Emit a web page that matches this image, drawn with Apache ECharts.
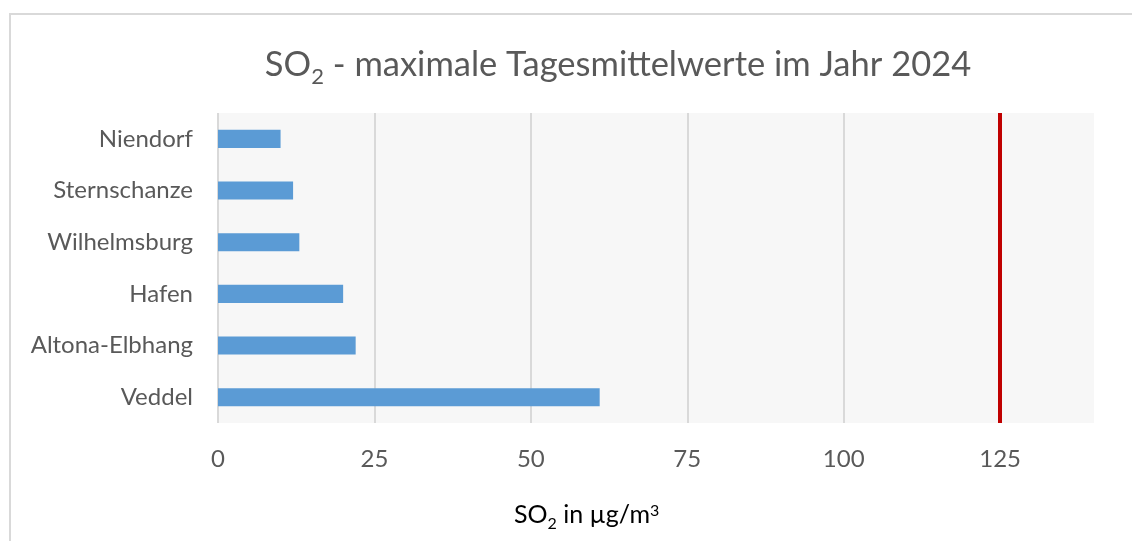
<!DOCTYPE html>
<html>
<head>
<meta charset="utf-8">
<script src="https://cdn.jsdelivr.net/npm/echarts@6/dist/echarts.min.js"></script>
<style>
  html, body { margin: 0; padding: 0; background: #fff; }
  #chart { width: 1132px; height: 541px; }
</style>
</head>
<body>
<div id="chart"></div>
<script>
// Messstationen (von unten nach oben wie im Diagramm)
const stations = ['Veddel', 'Altona-Elbhang', 'Hafen', 'Wilhelmsburg', 'Sternschanze', 'Niendorf']
// maximale Tagesmittelwerte SO2 in µg/m³
const maxDaily = [61, 22, 20, 13, 12, 10]
// Grenzwert Tagesmittel
const limitValue = 125
const xTicks = [0, 25, 50, 75, 100, 125]

const textColor = '#595959'
const font = 'Lato'

const chart = echarts.init(document.getElementById('chart'))
const option = {
  animation: false,
  backgroundColor: '#fff',
  title: {
    text: '{t|SO}{s|2}{t| - maximale Tagesmittelwerte im Jahr 2024}',
    left: 613,
    top: 42,
    textAlign: 'center',
    textStyle: {
      fontWeight: 'normal',
      rich: {
        t: { fontFamily: font, fontSize: 34.5, fontWeight: 'normal', color: textColor, lineHeight: 42, verticalAlign: 'top' },
        s: { fontFamily: font, fontSize: 22, fontWeight: 'normal', color: textColor, lineHeight: 22, verticalAlign: 'top', padding: [19, 0, 0, 0] }
      }
    }
  },
  graphic: [
    {
      type: 'rect',
      z: -10,
      shape: { x: 10, y: 14, width: 1200, height: 600 },
      style: { fill: 'none', stroke: '#d9d9d9', lineWidth: 2 }
    },
    {
      type: 'text',
      left: 514,
      top: 502,
      style: {
        text: '{t|SO}{s|2}{t| in µg/m}{p|3}',
        rich: {
          t: { fontFamily: font, fontSize: 25, color: textColor, lineHeight: 30, verticalAlign: 'top' },
          s: { fontFamily: font, fontSize: 16, color: textColor, lineHeight: 16, verticalAlign: 'top', padding: [14, 0, 0, 0] },
          p: { fontFamily: font, fontSize: 16, color: textColor, lineHeight: 16, verticalAlign: 'top', padding: [1, 0, 0, 0] }
        }
      }
    }
  ],
  grid: {
    left: 218,
    right: 38,
    top: 113,
    bottom: 118,
    show: true,
    backgroundColor: '#f7f7f7',
    borderWidth: 0
  },
  xAxis: {
    type: 'value',
    min: 0,
    max: 140,
    interval: 25,
    axisLine: { show: false },
    axisTick: { show: false, customValues: xTicks },
    axisLabel: {
      customValues: xTicks,
      margin: 24,
      fontFamily: font,
      fontSize: 24,
      color: textColor
    },
    splitLine: { lineStyle: { color: '#d9d9d9', width: 2 } }
  },
  yAxis: {
    type: 'category',
    data: stations,
    axisLine: { show: false },
    axisTick: { show: false },
    axisLabel: {
      margin: 25,
      fontFamily: font,
      fontSize: 24,
      color: textColor
    },
    splitLine: { show: false }
  },
  series: [
    {
      type: 'bar',
      data: maxDaily,
      barCategoryGap: '65%',
      itemStyle: { color: '#5b9bd5' },
      markLine: {
        silent: true,
        symbol: 'none',
        label: { show: false },
        lineStyle: { color: '#c00000', width: 4, type: 'solid' },
        data: [{ xAxis: limitValue }]
      }
    }
  ]
}
chart.setOption(option)
</script>
</body>
</html>
